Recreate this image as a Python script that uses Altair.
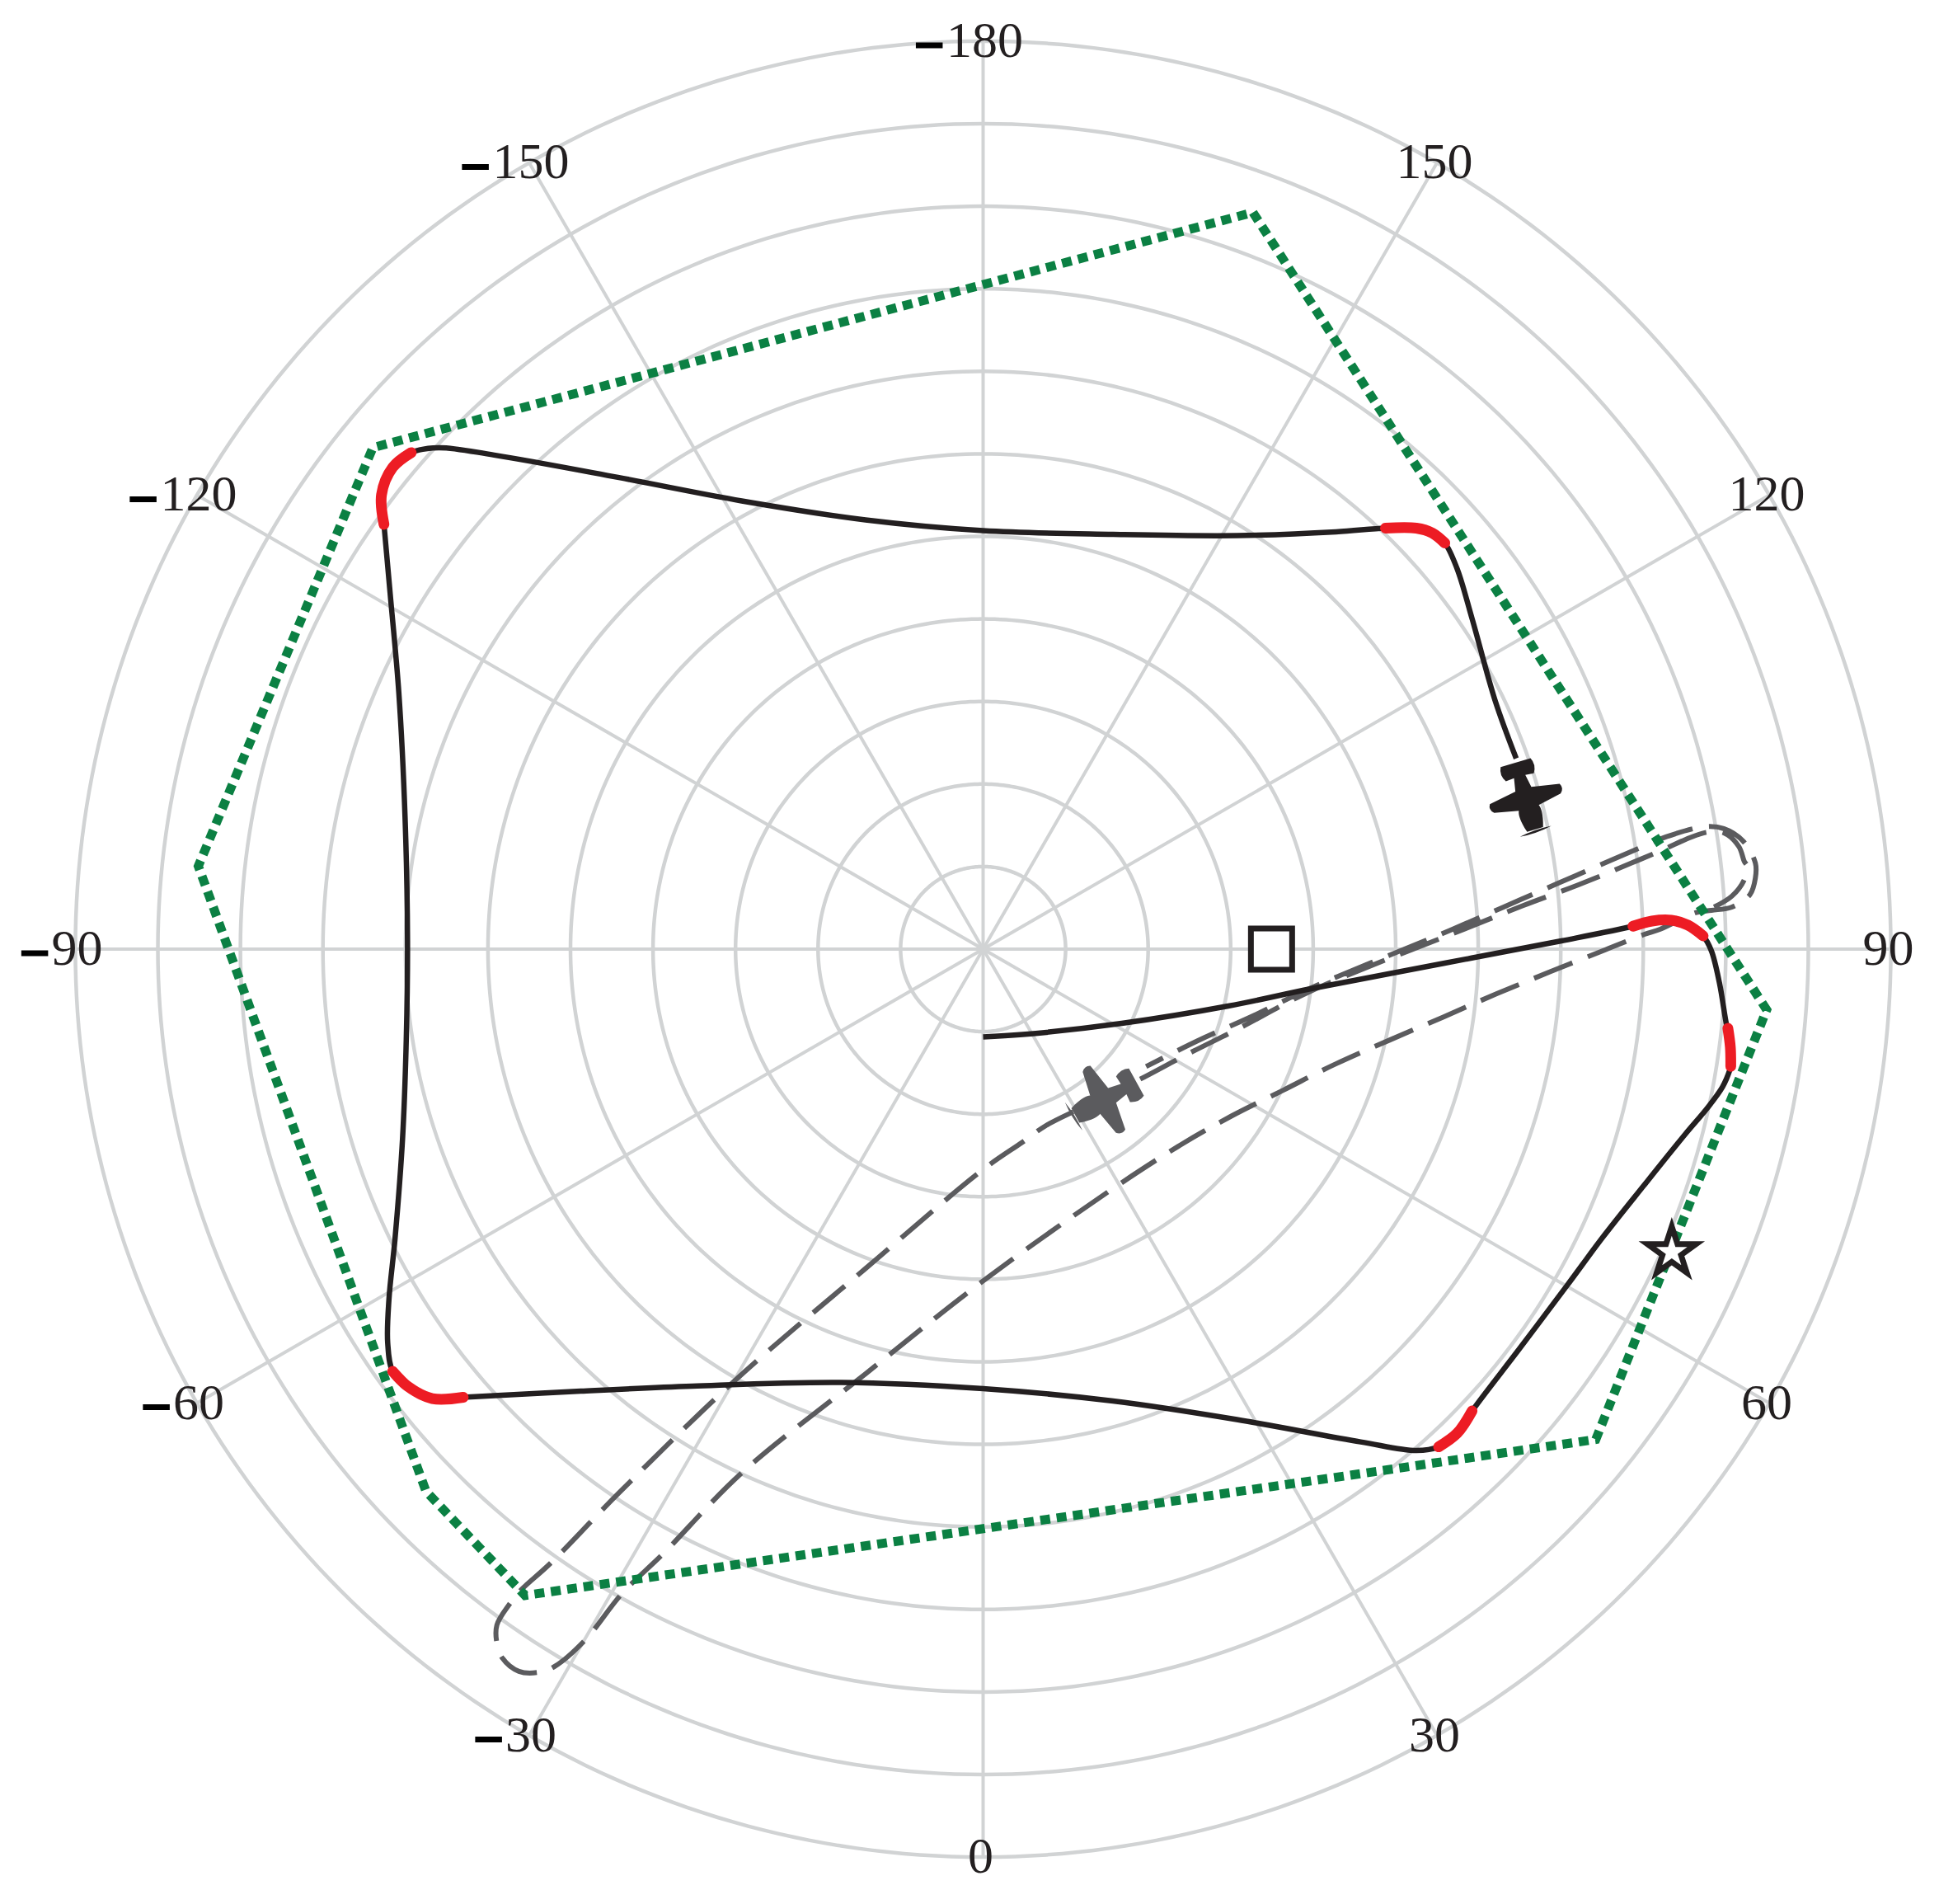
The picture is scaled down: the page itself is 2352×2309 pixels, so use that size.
import numpy as np
import pandas as pd
import altair as alt

# values are in ring units: (east, north) from the centre
red_1 = [(7.875,.277),(8.105,.34),(8.34,.35),(8.54,.29),(8.725,.16)]
red_2 = [(9.025,-.96),(9.055,-1.19),(9.06,-1.42)]
red_3 = [(5.925,-5.595),(5.745,-5.865),(5.52,-6.03)]
red_4 = [(-6.3,-5.43),(-6.675,-5.445),(-6.975,-5.295),(-7.155,-5.115)]
red_5 = [(-7.26,5.145),(-7.29,5.505),(-7.155,5.835),(-6.93,6.015)]
red_6 = [(4.875,5.1),(5.25,5.1),(5.445,5.04),(5.595,4.92)]

black_1 = [(0,-1.065),(.48,-1.035),(1.68,-.9),(2.97,-.69),(3.975,-.48),(5.58,-.173),(7.008,.10)]
black_2 = [(8.825,-.02),(8.925,-.42),(9.01,-.92)]
black_3 = [(9.05,-1.46),(8.96,-1.67),(8.78,-1.92),(8.51,-2.24),(8.01,-2.86),(7.51,-3.49),(7.08,-4.07),(6.5,-4.84)]
black_4 = [(5.25,-6.075),(4.575,-5.97),(3.075,-5.70),(1.575,-5.475),(0,-5.325),(-1.725,-5.25),(-3.525,-5.295),(-4.875,-5.355)]
black_5 = [(-7.215,-4.77),(-7.2,-4.245),(-7.125,-3.495),(-7.035,-2.295),(-6.99,-1.095),(-6.975,.105),(-7.005,1.605),(-7.08,3.105),(-7.185,4.305)]
black_6 = [(-6.6,6.075),(-5.925,5.985),(-4.425,5.715),(-2.925,5.43),(-1.425,5.2),(0,5.07),(1.575,5.025),(3.075,5.01),(4.275,5.055)]
black_7 = [(5.745,4.605),(5.925,4.005),(6.205,3.01),(6.46,2.31)]

gray_path = [
    (8.858,.51),(9.075,.643),(9.225,.843),(9.258,1.01),(9.225,1.06),(9.158,1.243),(8.975,1.41),(8.775,1.417),
    (8.508,1.327),(8.325,1.243),(7.858,1.043),(7.208,.777),(6.542,.527),(5.875,.26),(3.975,-.507),(3.108,-.957),
    (2.475,-1.273),(1.875,-1.59),(1.192,-1.923),(.758,-2.14),(.475,-2.34),(0,-2.67),(-1.425,-3.87),(-3,-5.22),
    (-4.425,-6.6),(-5.242,-7.44),(-5.608,-7.773),(-5.742,-7.94),(-5.892,-8.19),(-5.892,-8.407),(-5.825,-8.59),
    (-5.625,-8.75),(-5.375,-8.76),(-5.192,-8.69),(-4.825,-8.373),(-4.375,-7.807),(-3.875,-7.323),(-2.925,-6.345),
    (-1.425,-5.145),(0,-4.02),(1.575,-2.9),(2.392,-2.373),(3.008,-2.023),(3.642,-1.707),(4.275,-1.39),(5.575,-.823),
    (6.225,-.54),(6.875,-.273),(7.542,-.007),(8.008,.177),(8.208,.243),(8.642,.443),(8.825,.47),(9.075,.51),(9.292,.66),
    (9.358,.86),(9.358,1.043),(9.208,1.31),(8.975,1.46),(8.742,1.483),(8.275,1.36),(8.075,1.277),(7.608,1.077),
    (6.958,.793),(6.308,.51),(5.658,.227),(3.975,-.47),(3.275,-.807),(2.608,-1.107),(1.975,-1.423),
]

green_path = [(3.27,8.925),(9.495,-.735),(7.425,-5.94),(-5.55,-7.83),(-6.75,-6.57),(-9.51,1.005),(-7.395,6.075),(3.27,8.925)]

pos_angles = [0,30,60,90,120,150]
pos_labels = ["0","30","60","90","120","150"]
neg_angles = [180,-150,-120,-90,-60,-30]
neg_labels = ["180","150","120","90","60","30"]
rings = list(range(1,12))
LABEL_R = 11.0

plane_1 = {"x":6.575,"y":1.84,"heading":163.7}
plane_2 = {"x":1.475,"y":-1.82,"heading":241.3}
square_pt = {"x":3.495,"y":0.0}
star_pt = {"x":8.345,"y":-3.67}

INK="#231f20"; GRAY="#5b5b5e"; RED="#ed1c24"; GREEN="#0b8043"; GRID="#d1d3d4"
W,H=2336,2293
U=100.1
CX,CY=1184.5,1143.0
xs=alt.Scale(domain=[-CX/U,(W-CX)/U],nice=False,zero=False)
ys=alt.Scale(domain=[-(H-CY)/U,CY/U],nice=False,zero=False)
X=alt.X("x:Q",scale=xs,axis=None)
Y=alt.Y("y:Q",scale=ys,axis=None)

def frame(path,seg=0):
    return pd.DataFrame({"x":[p[0] for p in path],"y":[p[1] for p in path],"i":range(len(path)),"seg":seg})

t=np.deg2rad(np.arange(0,361,1))
ring_df=pd.concat([pd.DataFrame({"x":r*np.sin(t),"y":-r*np.cos(t),"i":range(len(t)),"seg":r}) for r in rings])
ring_layer=alt.Chart(ring_df).mark_line(color=GRID,strokeWidth=4.5,interpolate="linear").encode(X,Y,detail="seg:N",order="i:Q")

rad=np.deg2rad(pos_angles+neg_angles)
spoke_df=pd.DataFrame({"x":0.0,"y":0.0,"xe":11*np.sin(rad),"ye":-11*np.cos(rad)})
spoke_layer=alt.Chart(spoke_df).mark_rule(color=GRID,strokeWidth=4).encode(X,Y,x2="xe:Q",y2="ye:Q")

gray_layer=alt.Chart(frame(gray_path)).mark_line(color=GRAY,strokeWidth=6,strokeDash=[50,20],interpolate="catmull-rom").encode(X,Y,order="i:Q")
green_layer=alt.Chart(frame(green_path)).mark_line(color=GREEN,strokeWidth=11,strokeDash=[12,8],interpolate="linear").encode(X,Y,order="i:Q")

full_black=(black_1+red_1+black_2+red_2+black_3+red_3+black_4+red_4+black_5+red_5+black_6+red_6+black_7)
black_layer=alt.Chart(frame(full_black)).mark_line(color=INK,strokeWidth=6.5,interpolate="catmull-rom").encode(X,Y,order="i:Q")
red_df=pd.concat([frame(p,k) for k,p in enumerate([red_1,red_2,red_3,red_4,red_5,red_6])])
red_layer=alt.Chart(red_df).mark_line(color=RED,strokeWidth=13,strokeCap="round",interpolate="catmull-rom").encode(X,Y,detail="seg:N",order="i:Q")

PLANE=("M-.48 -1 Q0 -1.1 .48 -1.05 Q0 -.96 -.48 -1 Z "
       "M-.24 -.97 L.24 -.97 C.36 -.6 .34 -.4 .3 -.32 L1 -.18 Q1.14 -.05 1.05 .1 L.24 .24 L.17 .62 L.42 .6 "
       "Q.56 .82 .45 1.04 L-.45 1.04 Q-.56 .82 -.42 .6 L-.17 .62 L-.24 .24 L-1.05 .1 Q-1.14 -.05 -1 -.18 L-.3 -.32 C-.34 -.4 -.36 -.6 -.24 -.97 Z")
def plane(p,color):
    return alt.Chart(pd.DataFrame([p])).mark_point(shape=PLANE,filled=True,color=color,opacity=1,size=7056,angle=p["heading"],strokeWidth=0).encode(X,Y)

STAR="M0 -1 L.225 -.309 L.951 -.309 L.363 .118 L.588 .809 L0 .382 L-.588 .809 L-.363 .118 L-.951 -.309 L-.225 -.309 Z"
star_layer=alt.Chart(pd.DataFrame([star_pt])).mark_point(shape=STAR,filled=True,fill="white",stroke=INK,strokeWidth=7,opacity=1,size=3844).encode(X,Y)
square_layer=alt.Chart(pd.DataFrame([square_pt])).mark_point(shape="square",filled=True,fill="white",stroke=INK,strokeWidth=7,opacity=1,size=2500).encode(X,Y)

def labels(angs,txt):
    a=np.deg2rad(angs)
    return pd.DataFrame({"x":LABEL_R*np.sin(a),"y":-LABEL_R*np.cos(a),"t":txt,"n":[len(d) for d in txt]})
pos_df=labels(pos_angles,pos_labels)
neg_df=labels(neg_angles,neg_labels)
text_pos=alt.Chart(pos_df).mark_text(font="Liberation Serif",fontSize=62,color=INK,align="center",baseline="middle",dx=-3).encode(X,Y,text="t:N")
text_neg=alt.Chart(neg_df).mark_text(font="Liberation Serif",fontSize=62,color=INK,align="center",baseline="middle",dx=2).encode(X,Y,text="t:N")
neg=neg_df.copy()
neg["xa"]=neg.x-.815+(3-neg.n)*.16
neg["xb"]=neg.x-.49+(3-neg.n)*.16
neg["ym"]=neg.y-.05
minus_layer=alt.Chart(neg).mark_rule(color="#000000",strokeWidth=7).encode(x=alt.X("xa:Q",scale=xs,axis=None),x2="xb:Q",y=alt.Y("ym:Q",scale=ys,axis=None))

chart=alt.layer(ring_layer,spoke_layer,gray_layer,green_layer,black_layer,red_layer,plane(plane_1,INK),plane(plane_2,GRAY),square_layer,star_layer,text_pos,text_neg,minus_layer).properties(
    width=W,height=H,padding=0,autosize=alt.AutoSizeParams(type="none")
).configure_view(stroke=None)
chart.save("out.html",embed_options={"renderer":"svg","actions":False})
